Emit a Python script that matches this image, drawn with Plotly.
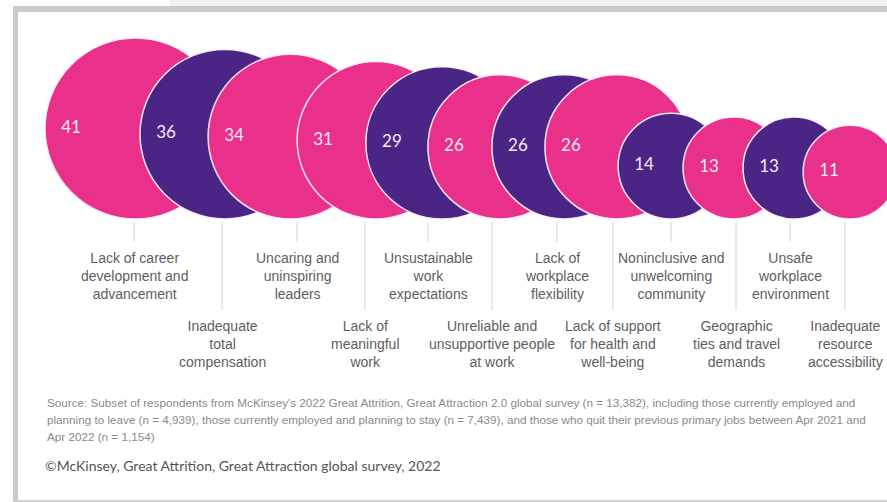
import numpy as np
import plotly.graph_objects as go

# ---------------- data ----------------
categories = [
    "Lack of career<br>development and<br>advancement",
    "Inadequate<br>total<br>compensation",
    "Uncaring and<br>uninspiring<br>leaders",
    "Lack of<br>meaningful<br>work",
    "Unsustainable<br>work<br>expectations",
    "Unreliable and<br>unsupportive people<br>at work",
    "Lack of<br>workplace<br>flexibility",
    "Lack of support<br>for health and<br>well-being",
    "Noninclusive and<br>unwelcoming<br>community",
    "Geographic<br>ties and travel<br>demands",
    "Unsafe<br>workplace<br>environment",
    "Inadequate<br>resource<br>accessibility",
]
values = [41, 36, 34, 31, 29, 26, 26, 26, 14, 13, 13, 11]

source_lines = [
    "Source: Subset of respondents from McKinsey's 2022 Great Attrition, Great Attraction 2.0 global survey (n = 13,382), including those currently employed and",
    "planning to leave (n = 4,939), those currently employed and planning to stay (n = 7,439), and those who quit their previous primary jobs between Apr 2021 and",
    "Apr 2022 (n = 1,154)",
]
copyright_text = "©McKinsey, Great Attrition, Great Attraction global survey, 2022"

# ---------------- styles ----------------
PINK = "#E9318B"
PURPLE = "#4B2585"
circle_colors = [PINK, PURPLE, PINK, PINK, PURPLE, PINK,
                 PURPLE, PINK, PURPLE, PINK, PURPLE, PINK]

# ---------------- layout (positions in axis units = pixels) ----------------
circle_cx = [135.5, 224.8, 290.5, 375.8, 442, 500, 564, 617, 671, 734, 794, 850]
label_x = [134, 222, 297, 365, 428, 492, 557, 613, 671, 736, 790, 845]
baseline_y = 219
max_diameter = 181

vals = np.array(values, dtype=float)
diam = max_diameter * np.sqrt(vals / vals.max())
rad = diam / 2
cx = np.array(circle_cx)
cy = baseline_y - rad

fig = go.Figure()

# leader lines
lx, ly = [], []
for i, x in enumerate(label_x):
    bottom = 242 if i % 2 == 0 else 310
    lx += [x, x, None]
    ly += [222, bottom, None]
fig.add_trace(go.Scatter(x=lx, y=ly, mode="lines",
                         line=dict(color="#d4d4d4", width=1),
                         hoverinfo="skip", showlegend=False))

# circles
fig.add_trace(go.Scatter(
    x=cx, y=cy, mode="markers",
    marker=dict(size=diam, sizemode="diameter", color=circle_colors, opacity=1,
                line=dict(color="rgba(255,240,250,0.95)", width=1.5)),
    hoverinfo="skip", showlegend=False))

# values inside circles
fig.add_trace(go.Scatter(
    x=cx - rad + 26, y=cy, mode="text",
    text=[str(v) for v in values],
    textfont=dict(family="Lato, Noto Sans, sans-serif", size=17, color="#F6EAF3"),
    hoverinfo="skip", showlegend=False))

annotations = []
for i, (x, lab) in enumerate(zip(label_x, categories)):
    annotations.append(dict(
        x=x, y=275.5 if i % 2 == 0 else 344, xref="x", yref="y",
        text=lab, showarrow=False, align="center",
        xanchor="center", yanchor="middle",
        font=dict(family="Liberation Sans, Arial, sans-serif", size=14, color="#5e5e5e")))

for j, line in enumerate(source_lines):
    annotations.append(dict(
        x=45, y=402 + 17 * j, xref="x", yref="y", text=line, showarrow=False,
        xanchor="left", yanchor="middle", align="left",
        font=dict(family="Liberation Sans, Arial, sans-serif", size=11.7, color="#8a8a8a")))

annotations.append(dict(
    x=43, y=465, xref="x", yref="y", text=copyright_text, showarrow=False,
    xanchor="left", yanchor="middle", align="left",
    font=dict(family="Lato, Noto Sans, sans-serif", size=14, color="#555555")))

shapes = [
    dict(type="rect", xref="x", yref="y", x0=170, x1=887, y0=0, y1=6,
         fillcolor="#f0f0f0", line=dict(width=0), layer="below"),
    dict(type="rect", xref="x", yref="y", x0=13, x1=887, y0=6, y1=12,
         fillcolor="#c9c9c9", line=dict(width=0), layer="below"),
    dict(type="rect", xref="x", yref="y", x0=13, x1=18, y0=6, y1=502,
         fillcolor="#c9c9c9", line=dict(width=0), layer="below"),
    dict(type="rect", xref="x", yref="y", x0=13, x1=887, y0=500, y1=502,
         fillcolor="#d0d0d0", line=dict(width=0), layer="below"),
]

fig.update_layout(
    width=887, height=502,
    margin=dict(l=0, r=0, t=0, b=0),
    paper_bgcolor="white", plot_bgcolor="white",
    xaxis=dict(range=[0, 887], visible=False, fixedrange=True),
    yaxis=dict(range=[502, 0], visible=False, fixedrange=True),
    annotations=annotations, shapes=shapes,
    showlegend=False,
)

fig.write_html("out.html", config={"displayModeBar": False},
               post_script="document.body.style.margin='0';")
